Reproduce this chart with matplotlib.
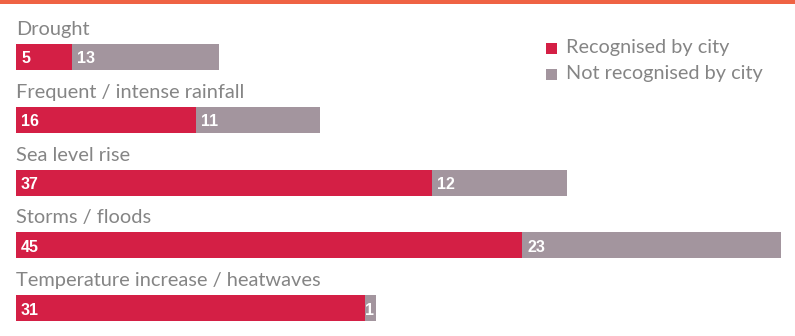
import matplotlib
matplotlib.use("Agg")
import matplotlib.pyplot as plt
from matplotlib.patches import Rectangle

categories = ["Drought", "Frequent / intense rainfall", "Sea level rise",
              "Storms / floods", "Temperature increase / heatwaves"]
recognised = [5, 16, 37, 45, 31]
not_recognised = [13, 11, 12, 23, 1]

red = "#d41f45"
grey = "#a3959e"
label_grey = "#858585"

W, H = 795, 336
fig = plt.figure(figsize=(W / 100, H / 100), dpi=100)

# orange rule on top
fig.add_artist(Rectangle((0, 1 - 4 / H), 1, 4 / H, transform=fig.transFigure,
                         color="#ef6344", lw=0))

left = 16
unit = 11.25
ax = fig.add_axes([left / W, 0, 1 - left / W, 1])
ax.set_xlim(0, (W - left) / unit)
step = 62.8
top0 = 57
ax.set_ylim((H - top0) / step, -top0 / step)
ax.axis("off")

bh = 26 / step
ax.barh(range(5), recognised, height=bh, color=red, lw=0)
ax.barh(range(5), not_recognised, left=recognised, height=bh, color=grey, lw=0)

for i, (cat, r, n) in enumerate(zip(categories, recognised, not_recognised)):
    ax.text(0, i - 0.35, cat, fontsize=14.4, family="Lato", color=label_grey,
            va="baseline", ha="left")
    ax.text(0.45, i + 0.03, str(r), fontsize=11.5, family="Liberation Sans",
            weight="bold", color="white", va="center", ha="left")
    ax.text(r + 0.45 if n > 1 else r + 0.05, i + 0.03, str(n), fontsize=11.5,
            family="Liberation Sans", weight="bold", color="white",
            va="center", ha="left")

# legend
for j, (lab, c) in enumerate([("Recognised by city", red),
                              ("Not recognised by city", grey)]):
    yc = 48 + 26 * j
    fig.add_artist(Rectangle((546 / W, 1 - (yc + 5.5) / H), 11 / W, 11 / H,
                             transform=fig.transFigure, color=c, lw=0))
    fig.text(566 / W, 1 - (yc + 5) / H, lab, fontsize=14.3, family="Lato",
             color=label_grey, va="baseline", ha="left")

fig.savefig("out.png", dpi=100)
